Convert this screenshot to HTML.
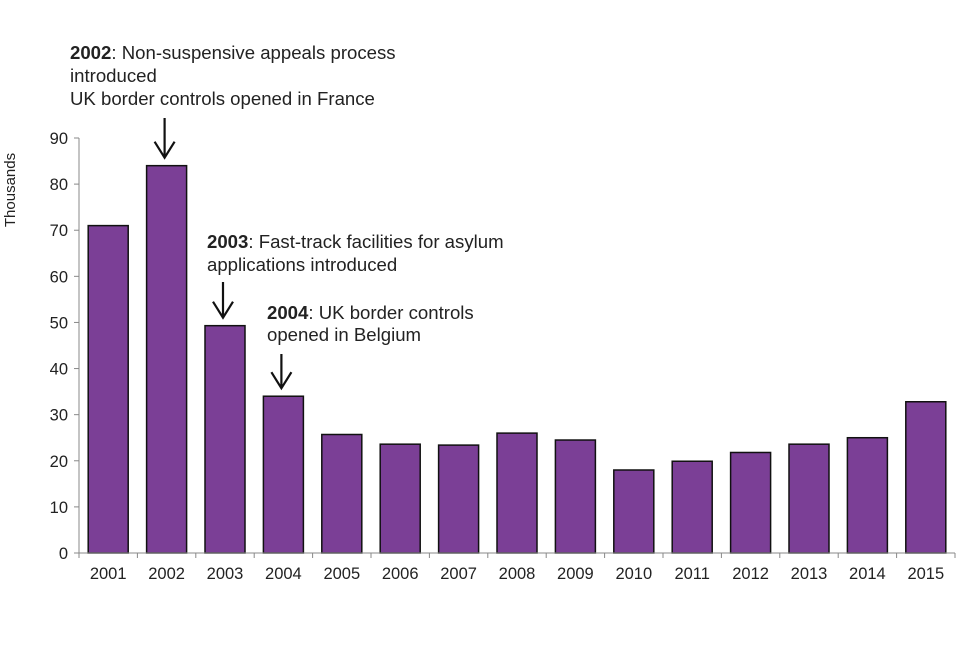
<!DOCTYPE html>
<html><head><meta charset="utf-8"><style>
body{margin:0;background:#fff}
svg text{font-family:"Liberation Sans",Arial,sans-serif;fill:#222}
</style></head><body>
<svg id="c" width="960" height="640" xmlns="http://www.w3.org/2000/svg">
<text transform="translate(15,190) rotate(-90)" text-anchor="middle" font-size="15">Thousands</text>
<g id="ann" font-size="18.6">
<text x="70" y="59"><tspan font-weight="bold">2002</tspan>: Non-suspensive appeals process</text>
<text x="70" y="82">introduced</text>
<text x="70" y="105">UK border controls opened in France</text>
<text x="207" y="248"><tspan font-weight="bold">2003</tspan>: Fast-track facilities for asylum</text>
<text x="207" y="271">applications introduced</text>
<text x="267" y="319"><tspan font-weight="bold">2004</tspan>: UK border controls</text>
<text x="267" y="341">opened in Belgium</text>
</g>
</svg>
<script>
const categories=["2001","2002","2003","2004","2005","2006","2007","2008","2009","2010","2011","2012","2013","2014","2015"];
const values=[71,84,49.3,34,25.7,23.6,23.4,26,24.5,18,19.9,21.8,23.6,25,32.8];
const yTicks=[0,10,20,30,40,50,60,70,80,90];
const arrows=[["2002",118],["2003",282],["2004",354]];
const svg=document.getElementById('c');
const NS="http://www.w3.org/2000/svg";
const x0=79,step=58.4,y0=553,yTop=138,yMax=90,bw=40;
const y=v=>y0-(v/yMax)*(y0-yTop);
const xc=i=>x0+step*(i+0.5);
function mk(t,a){const e=document.createElementNS(NS,t);for(const k in a)e.setAttribute(k,a[k]);svg.appendChild(e);return e;}
const ax=mk('line',{x1:x0,y1:yTop,x2:x0,y2:y0,stroke:'#888','stroke-width':1});


yTicks.forEach(t=>{
 const l=mk('line',{x1:x0-5,x2:x0,y1:y(t),y2:y(t),stroke:'#888'});
 
 
 const tx=mk('text',{x:x0-11,y:y(t)+6,'text-anchor':'end','font-size':16.5});
 tx.textContent=t;
 
 
});
categories.forEach((c,i)=>{
 const r=mk('rect',{x:xc(i)-bw/2,y:y(values[i]),width:bw,height:y0-y(values[i]),fill:'#7b3f96',stroke:'#111','stroke-width':1.5});
 
 
 const tx=mk('text',{x:xc(i),y:y0+26,'text-anchor':'middle','font-size':16.5});
 tx.textContent=c;
 
 
});
for(let i=0;i<=categories.length;i++){
 const l=mk('line',{x1:x0+step*i,x2:x0+step*i,y1:y0,y2:y0+5,stroke:'#888'});
 
 
}
const xa=mk('line',{x1:x0,y1:y0,x2:x0+step*categories.length,y2:y0,stroke:'#888'});


arrows.forEach(([c,top])=>{
 const i=categories.indexOf(c),cx=xc(i)-2,bot=y(values[i])-8;
 const p=mk('path',{d:`M${cx},${top}V${bot}M${cx-10},${bot-16}L${cx},${bot}L${cx+10},${bot-16}`,stroke:'#111','stroke-width':2.2,fill:'none'});
 
 
});
</script>
</body></html>
